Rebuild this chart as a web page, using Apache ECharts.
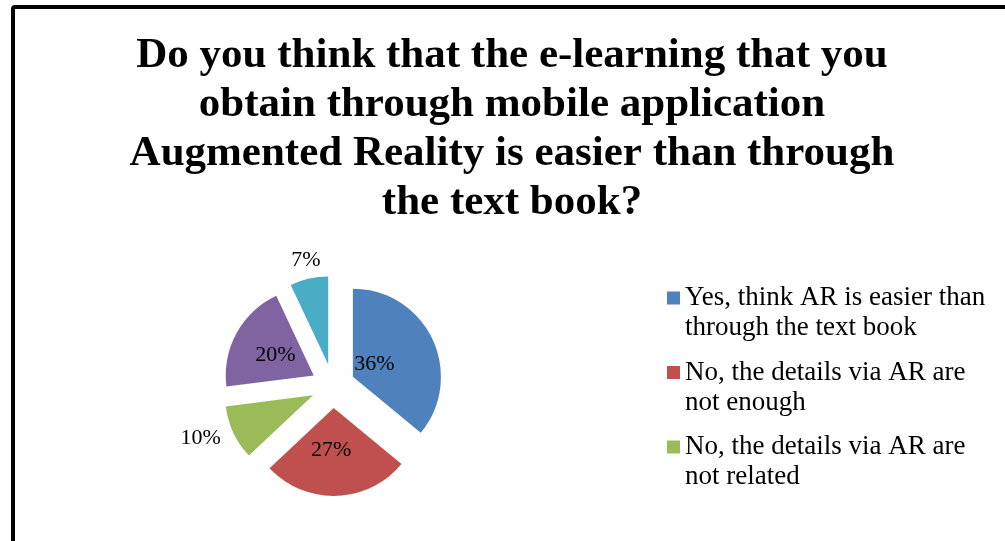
<!DOCTYPE html>
<html>
<head>
<meta charset="utf-8">
<script src="https://cdn.jsdelivr.net/npm/echarts@6/dist/echarts.min.js"></script>
<style>html,body{margin:0;padding:0;background:#fff;}#c{width:1005px;height:541px;}</style>
</head>
<body>
<div id="c"></div>
<script>
var titleLines = ['Do you think that the e-learning that you', 'obtain through mobile application', 'Augmented Reality is easier than through', 'the text book?'];
var categories = ['Yes, think AR is easier than through the text book', 'No, the details via AR are not enough', 'No, the details via AR are not related', 'No, AR is not easier', 'Not sure'];
var legendText = ['Yes, think AR is easier than\nthrough the text book', 'No, the details via AR are\nnot enough', 'No, the details via AR are\nnot related'];
var values = [36, 27, 10, 20, 7];
var legendShown = [categories[0], categories[1], categories[2]];
var colors = ['#4F81BD', '#C0504D', '#9BBB59', '#8064A2', '#4BACC6'];

var labelShift = [[-21, 8], [-4, -5], [-70, 23], [3, 2], [-12, -58]];

var chart = echarts.init(document.getElementById('c'), null, {renderer: 'canvas'});
var data = categories.map(function (n, i) {
  return {name: n, value: values[i], selected: true, itemStyle: {color: colors[i]}};
});
var font = '"Liberation Serif", "Times New Roman", serif';
chart.setOption({
  backgroundColor: '#fff',
  animation: false,
  title: {
    text: titleLines.join('\n'),
    left: 512, top: 32, textAlign: 'center',
    padding: 0,
    textStyle: {fontFamily: font, fontWeight: 'bold', fontSize: 43, lineHeight: 48.7, color: '#000'}
  },
  legend: {
    data: legendShown,
    orient: 'vertical',
    left: 667, top: 283, padding: 0,
    itemGap: 14.5,
    itemWidth: 13, itemHeight: 52,
    icon: 'path://M0,0h0.01v0.01h-0.01z M0,4.5h13v13h-13z M0,51.99h0.01v0.01h-0.01z',
    selectedMode: false,
    formatter: function (name) { return legendText[categories.indexOf(name)]; },
    textStyle: {fontFamily: font, fontSize: 27, lineHeight: 30, color: '#000'}
  },
  graphic: [{
    type: 'rect', silent: true,
    shape: {x: 13, y: 7, width: 1100, height: 700, r: 2},
    style: {fill: 'none', stroke: '#000', lineWidth: 4}
  }],
  series: [{
    type: 'pie',
    center: [333, 386],
    radius: 88,
    startAngle: 90,
    clockwise: true,
    selectedMode: 'multiple',
    selectedOffset: 22,
    emphasis: {disabled: true},
    itemStyle: {borderWidth: 0},
    labelLine: {show: false},
    label: {position: 'inside', formatter: '{d}%', fontFamily: font, fontSize: 22, color: '#000'},
    labelLayout: function (p) {
      var s = labelShift[p.dataIndex];
      return {dx: s[0], dy: s[1]};
    },
    data: data
  }]
});
</script>
</body>
</html>
